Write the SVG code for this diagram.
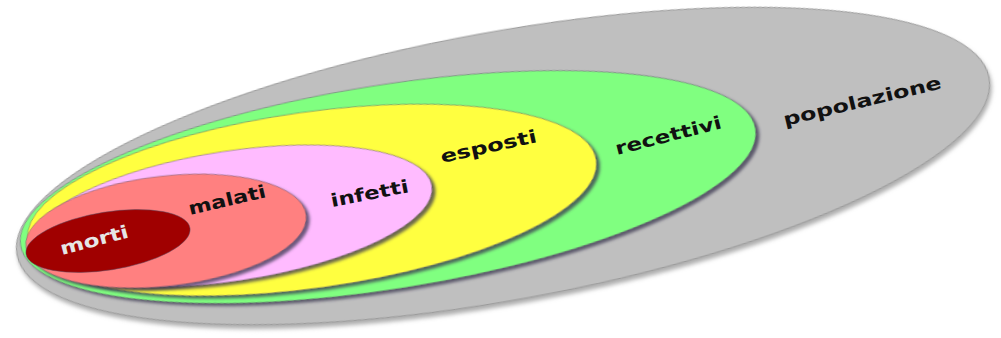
<svg xmlns="http://www.w3.org/2000/svg" width="1001" height="338" viewBox="0 0 1001 338">
  <defs>
    <filter id="sh" x="-10%" y="-20%" width="120%" height="140%">
      <feDropShadow dx="3" dy="3" stdDeviation="1.6" flood-color="#3a3550" flood-opacity="0.75"/>
    </filter>
    <filter id="shOuter" x="-10%" y="-20%" width="120%" height="140%">
      <feDropShadow dx="1" dy="4" stdDeviation="2" flood-color="#777" flood-opacity="0.6"/>
    </filter>
  </defs>
  <style>
    .lbl { font-family: "DejaVu Sans", "Verdana", sans-serif; font-weight: bold; font-size: 18px; fill: #111; }
    .w { fill: #e6e6e6; }
    .edge { stroke: #5a5068; stroke-width: 0.8; stroke-opacity: 0.6; }
  </style>
  <rect width="1001" height="338" fill="#ffffff"/>
  <g id="popolazione">
    <ellipse cx="503" cy="166" rx="494" ry="134" transform="rotate(-10.3 503 166)" fill="#bfbfbf" stroke="#9a9a9a" stroke-width="1" filter="url(#shOuter)"/>
    <text class="lbl" transform="translate(785,126) rotate(-13.5)" textLength="162" lengthAdjust="spacingAndGlyphs">popolazione</text>
  </g>
  <g id="recettivi">
    <ellipse cx="388" cy="187" rx="372" ry="102" transform="rotate(-9 388 187)" fill="#80ff80" class="edge" filter="url(#sh)"/>
    <text class="lbl" transform="translate(617,155) rotate(-14.3)" textLength="109" lengthAdjust="spacingAndGlyphs">recettivi</text>
  </g>
  <g id="esposti">
    <ellipse cx="312" cy="200" rx="287" ry="88" transform="rotate(-8 312 200)" fill="#ffff40" class="edge" filter="url(#sh)"/>
    <text class="lbl" transform="translate(442,163) rotate(-12.3)" textLength="98" lengthAdjust="spacingAndGlyphs">esposti</text>
  </g>
  <g id="infetti">
    <ellipse cx="232" cy="216" rx="202" ry="65" transform="rotate(-8.6 232 216)" fill="#ffbbff" class="edge" filter="url(#sh)"/>
    <text class="lbl" transform="translate(332,207) rotate(-10.9)" textLength="79" lengthAdjust="spacingAndGlyphs">infetti</text>
  </g>
  <g id="malati">
    <ellipse cx="166" cy="231" rx="141" ry="55" transform="rotate(-6.5 166 231)" fill="#ff8080" class="edge" filter="url(#sh)"/>
    <text class="lbl" transform="translate(190,215) rotate(-13.2)" textLength="79" lengthAdjust="spacingAndGlyphs">malati</text>
  </g>
  <g id="morti">
    <ellipse cx="108" cy="241" rx="83" ry="29" transform="rotate(-9 108 241)" fill="#a00000" class="edge"/>
    <text class="lbl w" transform="translate(62,255) rotate(-14.8)" textLength="70" lengthAdjust="spacingAndGlyphs">morti</text>
  </g>
  <g id="connectors"/>
</svg>
